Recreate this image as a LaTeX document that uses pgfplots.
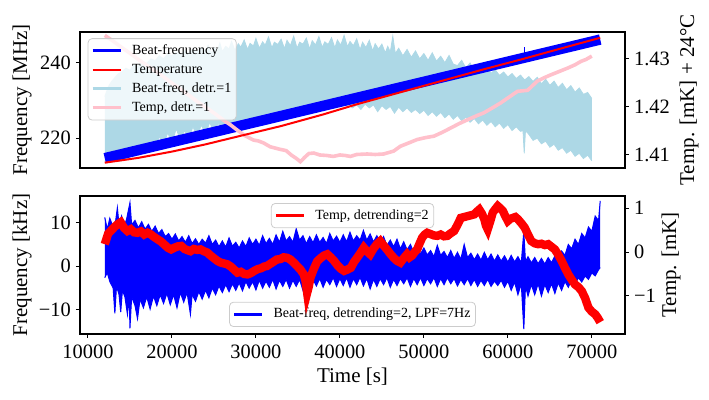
\documentclass[border=0pt]{standalone}
\usepackage{fontspec}
\setmainfont{Liberation Serif}
\usepackage{pgfplots}
\pgfplotsset{compat=1.18}
\usepgfplotslibrary{fillbetween}
\definecolor{lightblue}{RGB}{173,216,230}
\definecolor{mplpink}{RGB}{255,192,203}
\definecolor{legframe}{RGB}{204,204,204}
\pgfplotsset{
  base/.style={
    scale only axis, width=272.5pt,
    xmin=9050, xmax=73950,
    scaled x ticks=false, scaled y ticks=false,
    tick align=outside, major tick length=2pt,
    every tick/.style={black, line width=0.5pt},
    axis line style={line width=0.6pt},
    font=\fontsize{10.5}{12.6}\selectfont,
    tick label style={font=\fontsize{10.2}{12}\selectfont},
    /pgf/number format/assume math mode=true,
    yticklabel style={inner xsep=2.4pt},
    legend style={font=\fontsize{7}{8.4}\selectfont, draw=legframe, rounded corners=2pt,
      fill=white, fill opacity=0.8, draw opacity=1, text opacity=1,
      inner xsep=1.5pt, inner ysep=1.8pt, row sep=0.9pt,
      nodes={inner sep=1pt, text height=5.1pt, text depth=1.5pt},
      /tikz/every odd column/.append style={column sep=4pt}},
    legend cell align=left,
    legend image code/.code={\draw[#1] (0pt,0pt) -- (14pt,0pt);},
  },
}
\begin{document}
\begin{tikzpicture}
% ---------------- top panel, left axis
\begin{axis}[base, at={(40pt,116pt)}, anchor=south west, height=68pt,
  ymin=212.1, ymax=248.1, ytick={220,240}, yticklabels={220,240},
  xtick=\empty, ytick pos=left,
  ylabel={Frequency [MHz]},
  ylabel style={at={(axis description cs:-0.1064,0.5)}, anchor=center}]
\addplot[lightblue, line width=0.4pt, name path=U1, forget plot] coordinates {
(12000,231.0)(12400,233.5)(12800,235.0)(13200,236.0)(13600,237.0)(14000,237.5)(14500,238.5)(15000,238.0)(15500,239.5)(16000,239.0)(16500,240.3)(17000,239.8)(17500,241.0)(18000,240.5)(18500,241.8)(19000,241.0)(19500,242.3)(20000,241.8)(20500,242.8)(21000,242.0)(21500,243.2)(22000,242.5)(22500,243.5)(23000,242.8)(23500,244.0)(24000,243.0)(24300,244.6)(24700,242.4)(25000,244.0)(25400,243.1)(25700,245.2)(26000,242.9)(26400,244.3)(26800,243.6)(27100,245.6)(27500,243.2)(27900,245.0)(28200,244.1)(28600,246.0)(29000,243.5)(29300,245.1)(29700,244.4)(30000,246.4)(30400,243.8)(30800,245.5)(31100,244.6)(31500,246.8)(31900,243.9)(32200,245.4)(32600,244.8)(33000,246.2)(33400,243.7)(33700,245.9)(34100,244.5)(34500,247.0)(34900,243.8)(35200,245.4)(35600,244.9)(36000,246.5)(36400,243.6)(36700,245.8)(37100,244.7)(37500,246.9)(37900,244.0)(38200,245.5)(38600,244.8)(39000,246.6)(39400,243.9)(39700,246.0)(40100,244.6)(40500,247.2)(40900,244.2)(41200,245.6)(41600,244.5)(42000,246.3)(42400,243.4)(42700,245.4)(43100,244.0)(43500,245.9)(43900,243.1)(44200,245.0)(44600,243.6)(45000,244.9)(45400,242.6)(45700,244.3)(46000,242.8)(46300,247.0)(46600,242.4)(47000,243.8)(47500,241.8)(48000,243.5)(48500,241.4)(49000,243.1)(49500,241.0)(50000,242.4)(50500,240.6)(51000,242.6)(51500,240.4)(52000,241.7)(52500,240.0)(53000,241.9)(53500,239.6)(54000,239.2)(54500,240.6)(55000,238.6)(55500,239.9)(56000,238.0)(56500,239.2)(57000,237.6)(57500,238.7)(58000,237.2)(58500,238.1)(59000,236.6)(59500,237.5)(60000,236.2)(60500,237.1)(61000,235.8)(61500,236.7)(62000,235.4)(62500,236.3)(63000,235.0)(63500,236.1)(64000,234.4)(64500,235.6)(65000,234.0)(65500,235.1)(66000,233.4)(66500,234.5)(67000,232.8)(67500,233.9)(68000,232.2)(68500,233.3)(69000,231.6)(69500,232.1)(70000,230.5)};
\addplot[lightblue, line width=0.4pt, name path=L1, forget plot] coordinates {
(12000,213.8)(13000,213.8)(14000,214.0)(15000,215.0)(15500,217.0)(16000,215.5)(16500,218.5)(17000,216.5)(17500,219.5)(18000,217.0)(18500,220.5)(19000,218.0)(19500,221.5)(20000,218.5)(20500,222.5)(21000,219.5)(21500,222.0)(22000,220.0)(22500,223.0)(23000,220.5)(23500,223.5)(24000,221.0)(24500,224.2)(25000,221.5)(25500,224.0)(26000,222.0)(26500,225.2)(27000,222.5)(27500,224.5)(28000,223.0)(29000,223.5)(30000,224.0)(31000,224.5)(32000,225.0)(32500,226.8)(33000,225.5)(34000,226.0)(35000,226.5)(36000,227.0)(37000,227.5)(38000,227.8)(39000,228.2)(40000,228.5)(41000,228.8)(41500,228.0)(42000,228.8)(42500,227.6)(43000,229.0)(43500,228.0)(44000,228.8)(44500,227.0)(45000,228.6)(45500,227.6)(46000,228.4)(46500,226.6)(47000,228.2)(47500,227.0)(48000,228.0)(48500,226.8)(49000,227.6)(49500,226.5)(50000,227.4)(50500,226.0)(51000,227.0)(51500,225.8)(52000,226.8)(52500,225.4)(53000,226.4)(53500,225.0)(54000,226.0)(54500,224.6)(55000,225.6)(55500,224.2)(56000,225.2)(56500,223.8)(57000,224.8)(57500,223.4)(58000,224.4)(58500,223.0)(59000,224.0)(59500,222.6)(60000,223.6)(60500,222.0)(61000,223.0)(61500,221.8)(61800,222.0)(61950,216.0)(62100,222.0)(62500,221.0)(63000,219.4)(63500,220.0)(64000,218.5)(64500,219.2)(65000,217.6)(65500,218.4)(66000,216.8)(66500,217.5)(67000,216.0)(67500,216.8)(68000,215.2)(68500,216.0)(69000,214.6)(69500,215.5)(70000,214.0)};
\addplot[fill=lightblue, draw=none, forget plot] fill between[of=U1 and L1];
\addplot[blue, line width=5.2pt, forget plot] coordinates {
(12000,214.70)(14000,215.76)(16000,216.83)(18000,217.89)(20000,218.96)(22000,220.02)(24000,221.09)(26000,222.15)(28000,223.22)(30000,224.28)(32000,225.34)(34000,226.41)(36000,227.47)(38000,228.54)(40000,229.60)(42000,230.67)(44000,231.73)(46000,232.80)(48000,233.86)(50000,234.92)(52000,235.99)(54000,237.05)(56000,238.12)(58000,239.18)(60000,240.25)(62000,241.31)(64000,242.38)(66000,243.44)(68000,244.50)(70000,245.57)(71000,246.10)};
\addplot[blue, line width=0.8pt, forget plot] coordinates {(62000,240.5)(62000,244.0)};
\end{axis}
% ---------------- top panel, right axis
\begin{axis}[base, at={(40pt,116pt)}, anchor=south west, height=68pt,
  ymin=1.4073, ymax=1.4355, ytick={1.41,1.42,1.43}, yticklabels={1.41,1.42,1.43},
  axis x line=none, axis y line*=right,
  ylabel={Temp. [mK] + 24°C},
  ylabel style={at={(axis description cs:1.1174,0.5)}, anchor=center},
  legend style={at={(axis description cs:0.0141,0.954)}, anchor=north west}]
\addlegendimage{blue, line width=1.5pt}\addlegendentry{Beat-frequency}
\addlegendimage{red, line width=1pt}\addlegendentry{Temperature}
\addlegendimage{lightblue, line width=1.5pt}\addlegendentry{Beat-freq, detr.=1}
\addlegendimage{mplpink, line width=1.5pt}\addlegendentry{Temp, detr.=1}
\addplot[mplpink, line width=1.8pt, forget plot] coordinates {
(12000,1.4348)(13000,1.4336)(14000,1.4323)(15000,1.4311)(16000,1.4298)(17000,1.4286)(18000,1.4274)(19000,1.4262)(20000,1.4249)(21000,1.4237)(22000,1.4224)(23000,1.4211)(24000,1.4199)(25000,1.4187)(26000,1.4174)(27000,1.4162)(27740,1.4152)(28700,1.4140)(29700,1.4131)(30300,1.4129)(30900,1.4125)(31700,1.4117)(32800,1.4112)(33600,1.4109)(34200,1.4100)(34800,1.4093)(35300,1.4086)(35800,1.4095)(36300,1.4103)(36900,1.4104)(37600,1.4100)(38400,1.4099)(39200,1.4097)(40000,1.4100)(40600,1.4099)(41250,1.4097)(42000,1.4101)(43250,1.4102)(44200,1.4101)(45200,1.4102)(46400,1.4108)(47200,1.4118)(48200,1.4125)(49200,1.4132)(50200,1.4136)(51200,1.4139)(52200,1.4147)(53200,1.4156)(54200,1.4165)(55200,1.4173)(56370,1.4182)(57100,1.4187)(58100,1.4197)(59150,1.4208)(60150,1.4220)(61150,1.4232)(62350,1.4234)(63500,1.4253)(64300,1.4260)(65100,1.4266)(66100,1.4273)(67100,1.4280)(68000,1.4287)(68700,1.4294)(69300,1.4298)(69900,1.4304)(70000,1.4305)};
\addplot[red, line width=1pt, forget plot] coordinates {
(12000,1.4084)(16000,1.4094)(20000,1.4107)(24000,1.4122)(28000,1.4139)(33000,1.4160)(38000,1.4184)(42000,1.4205)(47000,1.4229)(52000,1.4253)(57000,1.4277)(62000,1.4300)(67000,1.4324)(71000,1.4343)};
\end{axis}
% ---------------- bottom panel, left axis
\begin{axis}[base, at={(40pt,33pt)}, anchor=south west, height=69pt,
  ymin=-15.5, ymax=16.1, ytick={-10,0,10}, yticklabels={−10,0,10},
  xtick={10000,20000,30000,40000,50000,60000,70000},
  xticklabels={10000,20000,30000,40000,50000,60000,70000},
  ytick pos=left, xtick pos=bottom,
  ylabel={Frequency [kHz]},
  ylabel style={at={(axis description cs:-0.1064,0.5)}, anchor=center},
  xlabel={Time [s]},
  xlabel style={at={(axis description cs:0.5,-0.3116)}, anchor=center},
  legend style={at={(axis description cs:0.5,0.0507)}, anchor=south}]
\addlegendimage{blue, line width=1.5pt}\addlegendentry{Beat-freq, detrending=2, LPF=7Hz}
\addplot[blue, line width=0.5pt, name path=U2, forget plot] coordinates {
(12000,11.2)(12300,8.5)(12600,11.0)(13000,9.0)(13300,10.5)(13500,13.4)(13700,9.5)(14000,11.5)(14300,9.0)(14600,10.8)(15000,14.6)(15200,9.5)(15600,10.5)(16000,8.8)(16400,10.2)(16800,8.5)(17200,9.6)(17600,8.0)(18000,9.2)(18400,7.5)(18800,8.4)(19200,6.8)(19600,7.5)(20000,6.2)(20400,7.4)(20800,5.8)(21200,6.8)(21600,5.5)(22000,7.0)(22400,5.2)(22800,6.3)(23200,5.0)(23600,6.2)(24000,5.3)(24400,7.0)(24800,5.0)(25200,6.0)(25600,4.5)(26000,5.8)(26400,4.4)(26800,6.5)(27200,4.6)(27600,5.5)(28000,4.2)(28400,5.8)(28800,4.5)(29200,6.5)(29600,5.0)(30000,6.2)(30400,4.8)(30800,7.0)(31200,5.2)(31600,6.4)(32000,5.0)(32400,7.2)(32800,5.5)(33200,8.0)(33600,5.8)(34000,6.8)(34400,5.5)(34800,8.6)(35200,6.0)(35600,7.0)(36000,5.2)(36400,6.8)(36800,5.4)(37200,7.2)(37600,5.5)(38000,6.6)(38400,5.2)(38800,7.5)(39200,5.8)(39600,6.9)(40000,5.5)(40400,7.2)(40800,5.6)(41200,7.8)(41600,5.8)(42000,7.0)(42400,6.0)(42800,8.2)(43200,6.0)(43600,7.4)(44000,5.6)(44400,7.0)(44800,5.5)(45200,6.8)(45600,4.8)(46000,6.0)(46400,4.5)(46800,6.2)(47200,4.0)(47600,5.6)(48000,3.8)(48400,5.0)(48800,3.2)(49200,4.5)(49600,2.8)(50000,4.2)(50400,2.6)(50800,3.6)(51200,2.2)(51600,4.8)(52000,2.5)(52400,3.4)(52800,2.0)(53200,3.6)(53600,1.8)(54000,3.2)(54400,1.6)(54800,5.0)(55200,2.0)(55600,3.0)(56000,1.5)(56400,2.8)(56800,1.4)(57200,3.2)(57600,1.5)(58000,2.8)(58400,1.2)(58800,2.6)(59200,1.2)(59600,2.4)(60000,1.0)(60400,2.5)(60800,1.0)(61200,2.2)(61600,0.8)(61900,8.0)(62100,1.0)(62400,2.2)(62800,0.8)(63200,2.0)(63600,0.6)(64000,1.8)(64400,0.5)(64800,2.0)(65200,0.8)(65600,2.4)(66000,1.5)(66400,3.5)(66800,2.5)(67200,5.0)(67600,4.0)(68000,6.2)(68400,5.0)(68800,7.5)(69200,6.5)(69600,9.0)(70000,8.0)(70400,11.5)(70800,10.5)(71000,15.0)};
\addplot[blue, line width=0.5pt, name path=L2, forget plot] coordinates {
(12000,-2.6)(12300,-1.5)(12600,-3.5)(13000,-5.0)(13200,-10.8)(13400,-4.5)(13700,-6.5)(13900,-10.5)(14100,-5.5)(14400,-7.0)(14700,-11.0)(14900,-6.5)(15000,-14.2)(15200,-7.0)(15600,-9.0)(15900,-12.0)(16200,-7.5)(16600,-9.5)(17000,-7.0)(17400,-9.8)(17800,-6.8)(18200,-9.0)(18600,-6.5)(19000,-8.5)(19400,-6.2)(19800,-8.8)(20200,-6.5)(20600,-9.5)(21000,-6.0)(21400,-8.2)(21800,-6.0)(22200,-11.0)(22400,-6.4)(22800,-8.0)(23200,-5.8)(23600,-7.5)(24000,-5.5)(24400,-7.2)(24800,-5.0)(25200,-6.5)(25600,-4.5)(26000,-6.0)(26400,-4.2)(26800,-5.8)(27200,-4.0)(27600,-5.5)(28000,-3.8)(28400,-5.6)(28800,-3.5)(29200,-5.0)(29600,-3.5)(30000,-5.4)(30400,-3.2)(30800,-5.0)(31200,-3.4)(31600,-4.8)(32000,-3.0)(32400,-5.2)(32800,-3.2)(33200,-4.6)(33600,-3.0)(34000,-5.0)(34400,-3.2)(34800,-4.6)(35200,-3.0)(35600,-5.5)(36000,-4.0)(36400,-5.2)(36800,-3.0)(37200,-4.5)(37600,-2.8)(38000,-4.8)(38400,-3.0)(38800,-4.2)(39200,-2.6)(39600,-4.6)(40000,-2.8)(40400,-4.4)(40800,-2.6)(41200,-4.8)(41600,-2.8)(42000,-4.2)(42400,-2.5)(42800,-4.5)(43200,-2.8)(43600,-5.2)(44000,-3.0)(44400,-4.6)(44800,-2.8)(45200,-4.2)(45600,-2.6)(46000,-4.8)(46400,-3.0)(46800,-4.4)(47200,-2.8)(47600,-4.0)(48000,-2.6)(48400,-4.6)(48800,-2.8)(49200,-4.2)(49600,-2.6)(50000,-4.4)(50400,-2.8)(50800,-4.0)(51200,-2.6)(51600,-4.6)(52000,-2.8)(52400,-4.2)(52800,-2.6)(53200,-4.0)(53600,-2.8)(54000,-4.5)(54400,-3.0)(54800,-4.2)(55200,-2.8)(55600,-4.4)(56000,-3.0)(56400,-4.6)(56800,-3.2)(57200,-4.4)(57600,-3.0)(58000,-4.6)(58400,-3.4)(58800,-4.4)(59200,-3.2)(59600,-4.8)(60000,-3.4)(60400,-5.5)(60800,-3.6)(61200,-6.5)(61600,-4.0)(61900,-14.4)(62100,-4.5)(62400,-6.8)(62800,-4.2)(63200,-6.5)(63600,-4.0)(64000,-6.8)(64400,-4.2)(64800,-6.0)(65200,-4.0)(65600,-6.2)(66000,-3.8)(66400,-5.5)(66800,-3.5)(67200,-4.8)(67600,-3.0)(68000,-4.2)(68400,-2.6)(68800,-3.6)(69200,-2.2)(69600,-3.0)(70000,-1.5)(70400,-2.2)(70800,-0.8)(71000,-0.3)};
\addplot[fill=blue, draw=none, forget plot] fill between[of=U2 and L2];
\end{axis}
% ---------------- bottom panel, right axis
\begin{axis}[base, at={(40pt,33pt)}, anchor=south west, height=69pt,
  ymin=-1.87, ymax=1.28, ytick={-1,0,1}, yticklabels={−1,0,1},
  axis x line=none, axis y line*=right,
  ylabel={Temp. [mK]},
  ylabel style={at={(axis description cs:1.0844,0.5)}, anchor=center},
  legend style={at={(axis description cs:0.5,0.949)}, anchor=north}]
\addlegendimage{red, line width=1.5pt}\addlegendentry{Temp, detrending=2}
\addplot[red, line width=4.2pt, forget plot] coordinates {
(12000,0.18)(12400,0.42)(12800,0.50)(13200,0.58)(13500,0.63)(13900,0.68)(14300,0.55)(14700,0.48)(15100,0.52)(15500,0.45)(15900,0.44)(16300,0.47)(16700,0.40)(17100,0.44)(17500,0.40)(17900,0.34)(18300,0.29)(18700,0.24)(19100,0.17)(19500,0.10)(19900,0.06)(20300,0.10)(20700,0.13)(21100,0.14)(21500,0.07)(21900,0.04)(22200,0.02)(22600,0.07)(23000,0.05)(23400,0.06)(23800,0.02)(24200,-0.01)(24600,-0.08)(25000,-0.14)(25400,-0.20)(25800,-0.24)(26200,-0.26)(26600,-0.28)(27000,-0.33)(27400,-0.40)(27800,-0.47)(28200,-0.45)(28600,-0.50)(29000,-0.51)(29400,-0.48)(29800,-0.43)(30200,-0.39)(30600,-0.37)(31000,-0.33)(31300,-0.32)(31700,-0.27)(32100,-0.22)(32500,-0.17)(32900,-0.16)(33300,-0.12)(33700,-0.13)(34100,-0.17)(34500,-0.24)(34900,-0.32)(35300,-0.40)(35700,-0.51)(35900,-0.65)(36100,-0.93)(36300,-0.78)(36500,-0.58)(36900,-0.38)(37300,-0.21)(37700,-0.14)(38100,-0.08)(38500,-0.05)(38900,-0.12)(39300,-0.20)(39700,-0.30)(40100,-0.38)(40500,-0.43)(40900,-0.40)(41300,-0.36)(41700,-0.22)(42050,-0.13)(42450,-0.02)(42850,0.10)(43200,0.02)(43600,-0.05)(44000,0.08)(44400,0.18)(44800,0.25)(45200,0.15)(45600,0.06)(46000,-0.04)(46400,-0.13)(46800,-0.20)(47200,-0.24)(47600,-0.14)(48000,-0.05)(48300,-0.12)(48600,-0.08)(48900,0.00)(49200,0.06)(49500,0.20)(49800,0.33)(50100,0.40)(50400,0.44)(50800,0.41)(51200,0.38)(51600,0.37)(52000,0.40)(52400,0.36)(52800,0.37)(53200,0.43)(53600,0.48)(54000,0.62)(54400,0.78)(54800,0.80)(55200,0.82)(55600,0.84)(56000,0.86)(56300,0.92)(56600,0.97)(56900,0.88)(57200,0.75)(57400,0.60)(57600,0.52)(57900,0.70)(58200,0.90)(58500,0.98)(58800,1.05)(59100,1.00)(59400,0.94)(59700,0.82)(60000,0.71)(60300,0.76)(60600,0.78)(60900,0.80)(61200,0.75)(61600,0.66)(62000,0.56)(62400,0.40)(62800,0.25)(63200,0.20)(63600,0.18)(64000,0.19)(64400,0.16)(64800,0.18)(65200,0.12)(65600,0.06)(66000,-0.06)(66400,-0.20)(66800,-0.36)(67200,-0.51)(67600,-0.63)(68000,-0.74)(68400,-0.80)(68800,-0.89)(69200,-1.05)(69600,-1.27)(70000,-1.36)(70400,-1.42)(70700,-1.50)(71000,-1.60)};
\end{axis}
\pgfresetboundingbox
\useasboundingbox (0,0) rectangle (354.5pt,200pt);
\end{tikzpicture}
\end{document}
